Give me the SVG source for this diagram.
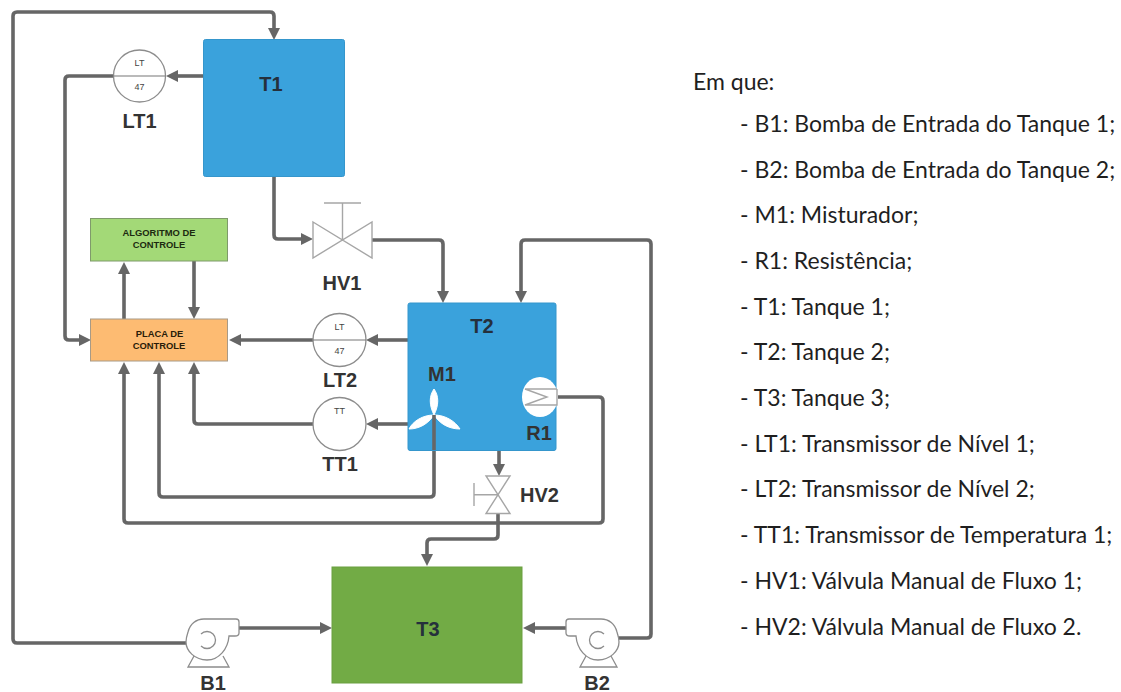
<svg xmlns="http://www.w3.org/2000/svg" width="1121" height="692" viewBox="0 0 1121 692">
<style>
.c{fill:none;stroke:#666;stroke-width:3.6;stroke-linejoin:round}
.a{marker-end:url(#ah)}
.s{fill:none;stroke:#a6a6a6;stroke-width:1.4}
.w{fill:#fff;stroke:#8c8c8c;stroke-width:1.3}
text{font-family:"Liberation Sans",Arial,sans-serif}
.l{font-size:20px;font-weight:700;fill:#333;text-anchor:middle}
.t{font-size:20px;font-weight:700;fill:#25303c;text-anchor:middle}
.m{font-size:9.4px;font-weight:700;fill:#1c2a10;text-anchor:middle}
.n{font-size:9px;fill:#444;text-anchor:middle}
.k{font-family:Lato,"Open Sans",sans-serif;font-size:23px;fill:#1f1f1f}
</style>
<defs>
<marker id="ah" markerUnits="userSpaceOnUse" markerWidth="14" markerHeight="14" refX="0" refY="7" orient="auto"><path d="M0 1L12 7L0 13Z" fill="#666"/></marker>
<path id="pump" d="M188 632C190 624 196 619 204 619H236Q239 619 239 622V633Q239 636 235 636H229C228 649 219 660 207 660C195 660 186 651 186 642C186 638 187 635 188 632Z"/>
</defs>
<rect width="1121" height="692" fill="#fff"/>
<g id="connectors">
<path class="c a" d="M186 643H17Q13 643 13 639V16Q13 12 17 12H270Q274 12 274 16V28"/>
<path class="c a" d="M204 76H178"/>
<path class="c a" d="M113 76H69Q65 76 65 80V336Q65 340 69 340H79"/>
<path class="c a" d="M274 176V235Q274 239 278 239H301"/>
<path class="c a" d="M372 240H439Q443 240 443 244V291"/>
<path class="c a" d="M618 638H647Q651 638 651 634V244Q651 240 647 240H525Q521 240 521 244V291"/>
<path class="c a" d="M408 340H378"/>
<path class="c a" d="M313 340H241"/>
<path class="c a" d="M408 424H378"/>
<path class="c a" d="M313 424H198Q194 424 194 420V374"/>
<path class="c a" d="M124 319V274"/>
<path class="c a" d="M194 261V307"/>
<path class="c a" d="M558 397H599Q603 397 603 401V519Q603 523 599 523H128Q124 523 124 519V374"/>
<path class="c a" d="M434 415V493Q434 497 430 497H163Q159 497 159 493V374"/>
<path class="c a" d="M499 450V464"/>
<path class="c a" d="M498 513V535Q498 539 494 539H431Q427 539 427 543V554"/>
<path class="c a" d="M239 628H320"/>
<path class="c a" d="M566 628H535"/>
</g>
<g id="T1"><rect x="203.500" y="39.500" width="141" height="137" rx="2" fill="#3aa2dc" stroke="#3596cc"/><text class="t" x="271" y="91">T1</text></g>
<g id="T2"><rect x="408" y="303" width="148" height="147.500" rx="2" fill="#3aa2dc" stroke="#3596cc"/><text class="t" x="482" y="333">T2</text></g>
<g id="T3"><rect x="332" y="567" width="190" height="116" fill="#72ab45" stroke="#6a9f40"/><text class="t" x="428" y="636">T3</text></g>
<g id="algoritmo"><rect x="90.500" y="218.500" width="137" height="42.500" fill="#a3d977" stroke="#7f9a6b"/><text class="m" x="159" y="236">ALGORITMO DE</text><text class="m" x="159" y="247.500">CONTROLE</text></g>
<g id="placa"><rect x="90.500" y="319" width="137" height="42" fill="#fdbb72" stroke="#a89a86"/><text class="m" x="159.500" y="337" style="fill:#2a1c08">PLACA DE</text><text class="m" x="159" y="348.500" style="fill:#2a1c08">CONTROLE</text></g>
<g id="LT1"><circle class="w" cx="139.500" cy="76" r="26"/><path d="M113.500 76H165.500" stroke="#777" stroke-width="1.2"/><text class="n" x="139.500" y="66">LT</text><text class="n" x="139.500" y="90">47</text><text class="l" x="139.500" y="128">LT1</text></g>
<g id="LT2"><circle class="w" cx="339.500" cy="340" r="26.500"/><path d="M313 340H366" stroke="#777" stroke-width="1.2"/><text class="n" x="339.500" y="330">LT</text><text class="n" x="339.500" y="354">47</text><text class="l" x="340" y="387">LT2</text></g>
<g id="TT1"><circle class="w" cx="339.500" cy="424" r="26.500"/><text class="n" x="339.500" y="414">TT</text><text class="l" x="340" y="471">TT1</text></g>
<g id="HV1"><path class="s" d="M313 222L372 258V222L313 258ZM342.500 240V203M324 203H361"/><text class="l" x="342" y="290">HV1</text></g>
<g id="HV2"><path class="s" d="M486 476H510L486 513.500H510ZM498 494.700H474M474 483V506"/><text class="l" x="520" y="502" style="text-anchor:start">HV2</text></g>
<g id="M1"><path d="M434 415C429 405 429 396 434 389C439 396 439 405 434 415ZM434 415C428 424 419 429 409 429C413 421 423 415 434 415ZM434 415C445 415 455 421 460 429C449 429 440 424 434 415Z" fill="#fff" stroke="#fff"/><path d="M434 415V450" stroke="#666" stroke-width="3.600"/><text class="l" x="442" y="381">M1</text></g>
<g id="R1"><ellipse cx="540" cy="397" rx="18" ry="20" fill="#fff"/><path class="s" d="M557 389H525L547 397L525 405H557V389"/><text class="l" x="539" y="440">R1</text></g>
<g id="B1"><use href="#pump" class="w"/><path d="M201 634A8.500 8.500 0 1 1 201 646" fill="none" stroke="#8c8c8c" stroke-width="1.300"/><path class="w" d="M194 656L188 667H229L223 656" style="fill:none"/><text class="l" x="213" y="690">B1</text></g>
<g id="B2"><use href="#pump" class="w" transform="matrix(-1 0 0 1 805 0)"/><path d="M604 634A8.500 8.500 0 1 0 604 646" fill="none" stroke="#8c8c8c" stroke-width="1.300"/><path class="w" d="M611 656L617 667H580L586 656" style="fill:none"/><text class="l" x="597" y="690">B2</text></g>
<g id="legend">
<text class="k" x="693" y="90">Em que:</text>
<text class="k" x="740" y="132">- B1: Bomba de Entrada do Tanque 1;</text>
<text class="k" x="740" y="178">- B2: Bomba de Entrada do Tanque 2;</text>
<text class="k" x="740" y="223">- M1: Misturador;</text>
<text class="k" x="740" y="269">- R1: Resistência;</text>
<text class="k" x="740" y="315">- T1: Tanque 1;</text>
<text class="k" x="740" y="360">- T2: Tanque 2;</text>
<text class="k" x="740" y="406">- T3: Tanque 3;</text>
<text class="k" x="740" y="452">- LT1: Transmissor de Nível 1;</text>
<text class="k" x="740" y="497">- LT2: Transmissor de Nível 2;</text>
<text class="k" x="740" y="543">- TT1: Transmissor de Temperatura 1;</text>
<text class="k" x="740" y="589">- HV1: Válvula Manual de Fluxo 1;</text>
<text class="k" x="740" y="635">- HV2: Válvula Manual de Fluxo 2.</text>
</g>
</svg>
